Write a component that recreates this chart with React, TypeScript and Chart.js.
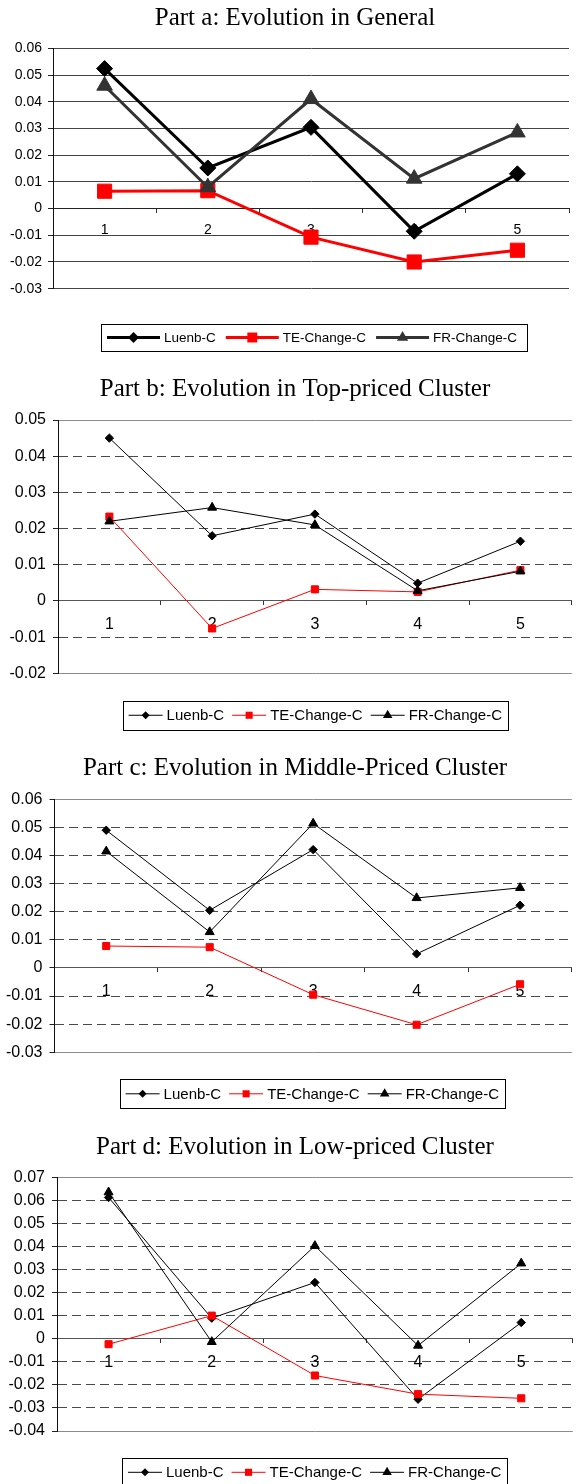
import React, { useEffect, useRef } from 'react';
import { Chart, registerables } from 'chart.js';
Chart.register(...registerables);

const categories = ['1', '2', '3', '4', '5'];
const seriesNames = ['Luenb-C', 'TE-Change-C', 'FR-Change-C'];

const titleA = 'Part a: Evolution in General';
const luenbA = [0.0524, 0.0152, 0.0304, -0.0085, 0.013];
const teA = [0.0065, 0.0067, -0.0107, -0.02, -0.0156];
const frA = [0.046, 0.008, 0.041, 0.0112, 0.0285];
const yRangeA = [-0.03, 0.06];

const titleB = 'Part b: Evolution in Top-priced Cluster';
const luenbB = [0.045, 0.018, 0.024, 0.0049, 0.0165];
const teB = [0.0233, -0.0076, 0.0032, 0.0025, 0.0085];
const frB = [0.022, 0.0258, 0.021, 0.0028, 0.0082];
const yRangeB = [-0.02, 0.05];

const titleC = 'Part c: Evolution in Middle-Priced Cluster';
const luenbC = [0.049, 0.0205, 0.0421, 0.005, 0.0223];
const teC = [0.0078, 0.0074, -0.0095, -0.0202, -0.0058];
const frC = [0.0415, 0.0128, 0.0514, 0.0249, 0.0285];
const yRangeC = [-0.03, 0.06];

const titleD = 'Part d: Evolution in Low-priced Cluster';
const luenbD = [0.0614, 0.009, 0.0245, -0.0262, 0.0071];
const teD = [-0.0023, 0.0101, -0.0159, -0.024, -0.0258];
const frD = [0.0637, -0.0013, 0.0404, -0.0029, 0.0328];
const yRangeD = [-0.04, 0.07];

const yStep = 0.01;

type Cfg = {
  title: string; luenb: number[]; te: number[]; fr: number[]; yr: number[];
  top: number; height: number; width: number; axisW: number; plotTop: number; plotBottom: number;
  titleBase: number; big: boolean; legendLeft: number; legendTop: number; legendH: number;
};

const panels: Cfg[] = [
  { title: titleA, luenb: luenbA, te: teA, fr: frA, yr: yRangeA, top: 0, height: 365, width: 580, axisW: 53, plotTop: 48.3, plotBottom: 288.7, titleBase: 25, big: true, legendLeft: 101, legendTop: 324, legendH: 27 },
  { title: titleB, luenb: luenbB, te: teB, fr: frB, yr: yRangeB, top: 365, height: 378, width: 578, axisW: 58, plotTop: 420, plotBottom: 673.3, titleBase: 396, big: false, legendLeft: 122.6, legendTop: 701, legendH: 28.5 },
  { title: titleC, luenb: luenbC, te: teC, fr: frC, yr: yRangeC, top: 743, height: 377, width: 578, axisW: 54.5, plotTop: 799.3, plotBottom: 1052.3, titleBase: 775, big: false, legendLeft: 119.6, legendTop: 1079.3, legendH: 29 },
  { title: titleD, luenb: luenbD, te: teD, fr: frD, yr: yRangeD, top: 1120, height: 364, width: 579, axisW: 57, plotTop: 1177.7, plotBottom: 1431, titleBase: 1154, big: false, legendLeft: 122, legendTop: 1458.3, legendH: 28 },
];

const SANS = "'Liberation Sans', Arial, sans-serif";
const SERIF = "'Liberation Serif', 'Times New Roman', serif";

function drawMarker(ctx: CanvasRenderingContext2D, style: string, x: number, y: number, r: number, color: string) {
  ctx.fillStyle = color;
  ctx.beginPath();
  if (style === 'rectRot') {
    ctx.moveTo(x - r, y); ctx.lineTo(x, y - r); ctx.lineTo(x + r, y); ctx.lineTo(x, y + r);
  } else if (style === 'rect') {
    const h = r * Math.SQRT1_2;
    ctx.rect(x - h, y - h, 2 * h, 2 * h);
  } else {
    ctx.moveTo(x, y - r); ctx.lineTo(x + r * 0.866, y + r / 2); ctx.lineTo(x - r * 0.866, y + r / 2);
  }
  ctx.closePath();
  ctx.fill();
}

function Panel({ cfg }: { cfg: Cfg }) {
  const ref = useRef<HTMLCanvasElement>(null);
  useEffect(() => {
    const big = cfg.big;
    const lw = big ? 3 : 1;
    const frColor = big ? '#333333' : '#000000';
    const tickFont = { family: SANS, size: big ? 14 : 16 };
    const [yMin, yMax] = cfg.yr;
    const near = (a: number, b: number) => Math.abs(a - b) < 1e-9;
    const markerR = big ? [8, 10, 9] : [4.2, 5, 5.2];
    const legendR = big ? [5.5, 7, 6.5] : [4, 5, 5.5];

    const decor = {
      id: 'decor',
      afterDraw(chart: any) {
        const ctx: CanvasRenderingContext2D = chart.ctx;
        ctx.save();
        ctx.font = `25px ${SERIF}`;
        ctx.fillStyle = '#000';
        ctx.textAlign = 'center';
        ctx.textBaseline = 'alphabetic';
        ctx.fillText(cfg.title, 295, cfg.titleBase - cfg.top);

        const sample = big ? 53 : 34;
        const textGap = 4;
        const itemGap = big ? 10 : 8;
        const padL = 6;
        const padR = big ? 10 : 6;
        ctx.font = `${big ? 13.5 : 15}px ${SANS}`;
        const ds = chart.data.datasets;
        const widths = ds.map((d: any) => ctx.measureText(d.label).width);
        const total = padL + ds.length * (sample + textGap) + widths.reduce((a: number, b: number) => a + b, 0) + (ds.length - 1) * itemGap + padR;
        const left = cfg.legendLeft;
        const top = cfg.legendTop - cfg.top;
        const h = cfg.legendH;
        ctx.fillStyle = '#fff';
        ctx.fillRect(left, top, total, h);
        ctx.strokeStyle = '#000';
        ctx.lineWidth = 1;
        ctx.strokeRect(Math.round(left) + 0.5, Math.round(top) + 0.5, Math.round(total), Math.round(h));
        let x = left + padL;
        const cy = top + h / 2;
        ds.forEach((d: any, i: number) => {
          ctx.strokeStyle = d.borderColor;
          ctx.lineWidth = d.borderWidth;
          ctx.beginPath();
          ctx.moveTo(x, cy);
          ctx.lineTo(x + sample, cy);
          ctx.stroke();
          drawMarker(ctx, d.pointStyle, x + sample / 2, cy, legendR[i], d.backgroundColor);
          x += sample + textGap;
          ctx.fillStyle = '#000';
          ctx.textAlign = 'left';
          ctx.textBaseline = 'middle';
          ctx.fillText(d.label, x, cy + 1);
          x += widths[i] + itemGap;
        });
        ctx.restore();
      },
    };

    const chart = new Chart(ref.current as HTMLCanvasElement, {
      type: 'line',
      data: {
        labels: categories,
        datasets: [
          { label: seriesNames[0], data: cfg.luenb, borderColor: '#000000', backgroundColor: '#000000', borderWidth: lw, pointStyle: 'rectRot', pointRadius: markerR[0], pointBorderWidth: 1, order: 2, tension: 0 },
          { label: seriesNames[1], data: cfg.te, borderColor: '#ff0000', backgroundColor: '#ff0000', borderWidth: lw, pointStyle: 'rect', pointRadius: markerR[1], pointBorderWidth: 1, order: 1, tension: 0 },
          { label: seriesNames[2], data: cfg.fr, borderColor: frColor, backgroundColor: frColor, borderWidth: lw, pointStyle: 'triangle', pointRadius: markerR[2], pointBorderWidth: 1, order: 0, tension: 0 },
        ] as any,
      },
      options: {
        responsive: false,
        animation: false,
        devicePixelRatio: 1,
        layout: { padding: { top: cfg.plotTop - cfg.top, bottom: cfg.top + cfg.height - cfg.plotBottom, left: 0, right: 0 } },
        plugins: { legend: { display: false }, title: { display: false }, tooltip: { enabled: false } },
        scales: {
          x: {
            type: 'category',
            position: { y: 0 } as any,
            offset: true,
            grid: { display: true, drawOnChartArea: false, drawTicks: true, tickLength: 4, offset: true, color: '#333' },
            border: { display: true, color: big ? '#222' : '#555', width: 1 },
            ticks: { font: tickFont, color: '#000', padding: big ? 9 : 10, maxRotation: 0, autoSkip: false },
          },
          y: {
            type: 'linear',
            min: yMin,
            max: yMax,
            afterFit: (s: any) => { s.width = cfg.axisW; },
            ticks: {
              stepSize: yStep,
              font: tickFont,
              color: '#000',
              padding: big ? 6 : 7,
              callback: (v: any) => { const n = Math.round(Number(v) * 100) / 100; return n === 0 ? '0' : String(n); },
            },
            grid: {
              lineWidth: 1,
              tickLength: 5,
              tickColor: '#222',
              color: (c: any) => {
                const v = c.tick ? c.tick.value : 0;
                if (big) return near(v, 0) ? '#222' : '#444';
                if (near(v, yMax) || near(v, yMin)) return '#8c8c8c';
                if (near(v, 0)) return '#555';
                return '#4a4a4a';
              },
            },
            border: {
              display: true,
              color: '#111',
              width: 1,
              dash: (c: any) => {
                if (big || !c.tick) return [];
                const v = c.tick.value;
                if (near(v, yMax) || near(v, yMin) || near(v, 0)) return [];
                return [9, 5];
              },
            } as any,
          },
        },
      } as any,
      plugins: [decor],
    });
    return () => chart.destroy();
  }, [cfg]);
  return <canvas ref={ref} width={cfg.width} height={cfg.height} style={{ position: 'absolute', left: 0, top: cfg.top }} />;
}

export default function App() {
  return (
    <div style={{ position: 'absolute', left: 0, top: 0, width: 577, height: 1484, overflow: 'hidden', background: '#fff' }}>
      {panels.map((p, i) => <Panel key={i} cfg={p} />)}
    </div>
  );
}
